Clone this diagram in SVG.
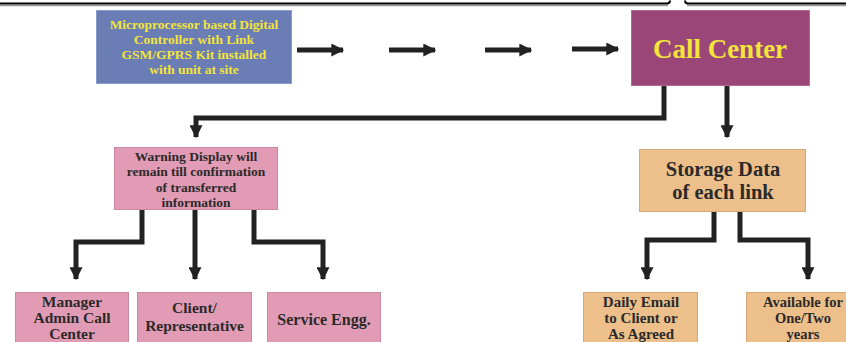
<svg xmlns="http://www.w3.org/2000/svg" width="846" height="342" viewBox="0 0 846 342">
<defs>
<style>
.box{stroke-width:1}
.blue{fill:#6a7db4;stroke:#8c9cc8}
.purple{fill:#9b4678;stroke:#b06a92}
.pink{fill:#e29bb5;stroke:#c98aa0}
.tan{fill:#ecbf8b;stroke:#d6a877}
.t{font-family:"Liberation Serif","Times New Roman",serif;font-weight:bold;text-anchor:middle}
.y{fill:#f3e43a}
.d{fill:#2a2a2a}
.c{fill:none;stroke:#222;stroke-width:5;stroke-linejoin:miter}
.frame{fill:none;stroke:#000;stroke-width:2}
.shadow{fill:none;stroke:#999;stroke-width:1.5}
</style>
<marker id="ah" viewBox="0 0 10 10" refX="9" refY="5" markerWidth="2.8" markerHeight="2.6" orient="auto" markerUnits="strokeWidth">
<path d="M0,0 L10,5 L0,10 z" fill="#222"/>
</marker>
</defs>
<rect width="846" height="342" fill="#fff"/>
<g id="frame">
<path class="shadow" d="M0,5.5 H668"/>
<path class="shadow" d="M687,5.5 H846"/>
<path class="frame" d="M0,3.5 H667 Q670,3.5 670,0.5"/>
<path class="frame" d="M846,3.5 H688 Q685,3.5 685,0.5"/>
</g>
<g id="connectors">
<path class="c" d="M297,50 H343" marker-end="url(#ah)"/>
<path class="c" d="M389,50 H435" marker-end="url(#ah)"/>
<path class="c" d="M485,50 H531" marker-end="url(#ah)"/>
<path class="c" d="M572,49 H618" marker-end="url(#ah)"/>
<path class="c" d="M664,86 V118 H196 V137" marker-end="url(#ah)"/>
<path class="c" d="M727,86 V137" marker-end="url(#ah)"/>
<path class="c" d="M142,210 V242 H76 V279" marker-end="url(#ah)"/>
<path class="c" d="M195,210 V279" marker-end="url(#ah)"/>
<path class="c" d="M254,210 V242 H323 V279" marker-end="url(#ah)"/>
<path class="c" d="M714,212 V240 H647 V279" marker-end="url(#ah)"/>
<path class="c" d="M740,212 V240 H808 V279" marker-end="url(#ah)"/>
</g>
<g id="controller">
<rect class="box blue" x="96.5" y="10.5" width="195" height="73"/>
<text class="t y" font-size="13.5" x="194" y="29">Microprocessor based Digital</text>
<text class="t y" font-size="13.5" x="194" y="44">Controller with Link</text>
<text class="t y" font-size="13.5" x="194" y="59">GSM/GPRS Kit installed</text>
<text class="t y" font-size="13.5" x="194" y="74">with unit at site</text>
</g>
<g id="callcenter">
<rect class="box purple" x="631.5" y="10.5" width="178" height="75"/>
<text class="t y" font-size="27" x="720" y="58">Call Center</text>
</g>
<g id="warning">
<rect class="box pink" x="114.5" y="147.5" width="163" height="62"/>
<text class="t d" font-size="13.5" x="196" y="160.5">Warning Display will</text>
<text class="t d" font-size="13.5" x="196" y="176">remain till confirmation</text>
<text class="t d" font-size="13.5" x="196" y="191.5">of transferred</text>
<text class="t d" font-size="13.5" x="196" y="207">information</text>
</g>
<g id="storage">
<rect class="box tan" x="639.5" y="149.5" width="166" height="62"/>
<text class="t d" font-size="20.5" x="723" y="176">Storage Data</text>
<text class="t d" font-size="20.5" x="723" y="199">of each link</text>
</g>
<g id="manager">
<rect class="box pink" x="15.5" y="292.5" width="113" height="55"/>
<text class="t d" font-size="15.5" x="72" y="306.5">Manager</text>
<text class="t d" font-size="15.5" x="72" y="322.5">Admin Call</text>
<text class="t d" font-size="15.5" x="72" y="338.5">Center</text>
</g>
<g id="client">
<rect class="box pink" x="137.5" y="292.5" width="114" height="55"/>
<text class="t d" font-size="15.5" x="194.5" y="313">Client/</text>
<text class="t d" font-size="15.5" x="194.5" y="331">Representative</text>
</g>
<g id="service">
<rect class="box pink" x="267.5" y="292.5" width="113" height="55"/>
<text class="t d" font-size="16" x="324" y="325">Service Engg.</text>
</g>
<g id="email">
<rect class="box tan" x="583.5" y="292.5" width="114" height="55"/>
<text class="t d" font-size="15" x="641" y="306.5">Daily Email</text>
<text class="t d" font-size="15" x="641" y="322.5">to Client or</text>
<text class="t d" font-size="15" x="641" y="338.5">As Agreed</text>
</g>
<g id="available">
<rect class="box tan" x="746.5" y="292.5" width="114" height="55"/>
<text class="t d" font-size="14.5" x="803" y="306.5">Available for</text>
<text class="t d" font-size="14.5" x="803" y="322.5">One/Two</text>
<text class="t d" font-size="14.5" x="803" y="338.5">years</text>
</g>
</svg>
